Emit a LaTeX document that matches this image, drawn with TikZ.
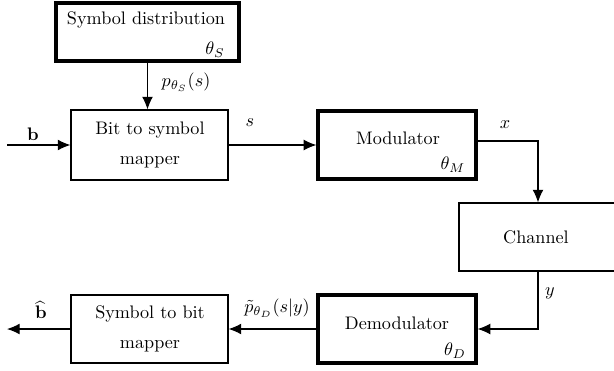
\documentclass[tikz,border=0pt]{standalone}
\usetikzlibrary{arrows.meta}
\begin{document}
\begin{tikzpicture}[x=0.551pt,y=-0.551pt,
  thinbox/.style={draw, line width=0.6pt, inner sep=0pt},
  thickbox/.style={draw, line width=1.8pt, inner sep=0pt},
  txt/.style={inner sep=0pt, align=center},
  conn/.style={line width=0.6pt, -{Latex[length=7pt,width=6pt]}}]
\clip (0,0) rectangle (614,370);
% boxes
\node[thickbox, minimum width=183*0.551pt, minimum height=58*0.551pt] (sd) at (147.5,32) {};
\node[thinbox, minimum width=157*0.551pt, minimum height=70*0.551pt] (bm) at (149.5,145) {};
\node[thickbox, minimum width=158*0.551pt, minimum height=68*0.551pt] (mod) at (397,145) {};
\node[thinbox, minimum width=158*0.551pt, minimum height=68*0.551pt] (ch) at (538,237) {};
\node[thickbox, minimum width=158*0.551pt, minimum height=68*0.551pt] (dem) at (397,329) {};
\node[thinbox, minimum width=157*0.551pt, minimum height=68*0.551pt] (sb) at (149.5,329) {};
% box texts
\node[txt] (sdt) at (146,20) {Symbol distribution};
\node[txt] (sdth) at (215,50) {$\theta_S$};
\node[txt] (bmt) at (150,145) {Bit to symbol\\[4.5pt] mapper};
\node[txt] (modt) at (398,138) {Modulator};
\node[txt] (modth) at (453,165) {$\theta_M$};
\node[txt] (cht) at (536,237) {Channel};
\node[txt] (demt) at (397,323) {Demodulator};
\node[txt] (demth) at (455,351) {$\theta_D$};
\node[txt] (sbt) at (150,329) {Symbol to bit\\[4.5pt] mapper};
% free ends
\coordinate (bin) at (7,145);
\coordinate (bout) at (7,329);
% connectors
\draw[conn] (sd.south) -- (sd.south |- bm.north);
\draw[conn] (bin) -- (bm.west);
\draw[conn] (bm.east) -- (mod.west);
\draw[conn] ([yshift=2.2pt]mod.east) -| (ch.north);
\draw[conn] (ch.south) |- (dem.east);
\draw[conn] (dem.west) -- (sb.east);
\draw[conn] (sb.west) -- (bout);
% connector labels
\node[txt] (lp) at (186,82) {$p_{\theta_S}(s)$};
\node[txt] (lb) at (33,134) {$\mathbf{b}$};
\node[txt] (ls) at (250,123) {$s$};
\node[txt] (lx) at (505,125) {$x$};
\node[txt] (ly) at (550,293) {$y$};
\node[txt] (lpt) at (277,308) {$\tilde{p}_{\theta_D}(s|y)$};
\node[txt] (lbh) at (41,310) {$\widehat{\mathbf{b}}$};
\end{tikzpicture}
\end{document}
